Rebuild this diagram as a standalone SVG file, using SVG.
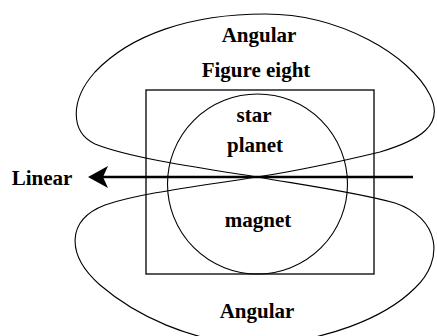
<svg xmlns="http://www.w3.org/2000/svg" width="437" height="336" viewBox="0 0 437 336">
<style>
.ln{fill:none;stroke:#000;stroke-width:1.1}
.t{font-family:"Liberation Serif","Times New Roman",serif;font-weight:bold;font-size:21px;fill:#000;text-anchor:middle}
</style>
<rect width="437" height="336" fill="#fff"/>
<g id="top-lobe">
<path class="ln" d="M257,177 C200,168 130,158 95,144 C70,132 70,100 95,72 C130,35 190,14 265,14 C340,14 410,55 430,95 C445,125 420,140 380,152 C330,164 290,172 257,177 Z"/>
</g>
<g id="bottom-lobe">
<path class="ln" d="M257,177 C310,186 360,193 395,203 C440,218 445,260 415,288 C385,318 325,342 255,345 C190,342 135,315 100,285 C66,255 66,220 105,205 C140,193 200,186 257,177 Z"/>
</g>
<g id="box">
<rect x="146" y="90" width="228" height="184" fill="none" stroke="#000" stroke-width="1.3"/>
</g>
<g id="circle">
<circle cx="257.5" cy="184" r="90" class="ln"/>
</g>
<g id="connectors">
<line x1="413" y1="177" x2="102" y2="177" stroke="#000" stroke-width="2.6"/>
<polygon points="88,177 108,166 103,177 108,188" fill="#000"/>
</g>
<g id="labels">
<text class="t" x="259" y="42">Angular</text>
<text class="t" x="256" y="77">Figure eight</text>
<text class="t" x="254" y="122">star</text>
<text class="t" x="255" y="152">planet</text>
<text class="t" x="258" y="227">magnet</text>
<text class="t" x="257" y="318">Angular</text>
<text class="t" x="42" y="185">Linear</text>
</g>
</svg>
